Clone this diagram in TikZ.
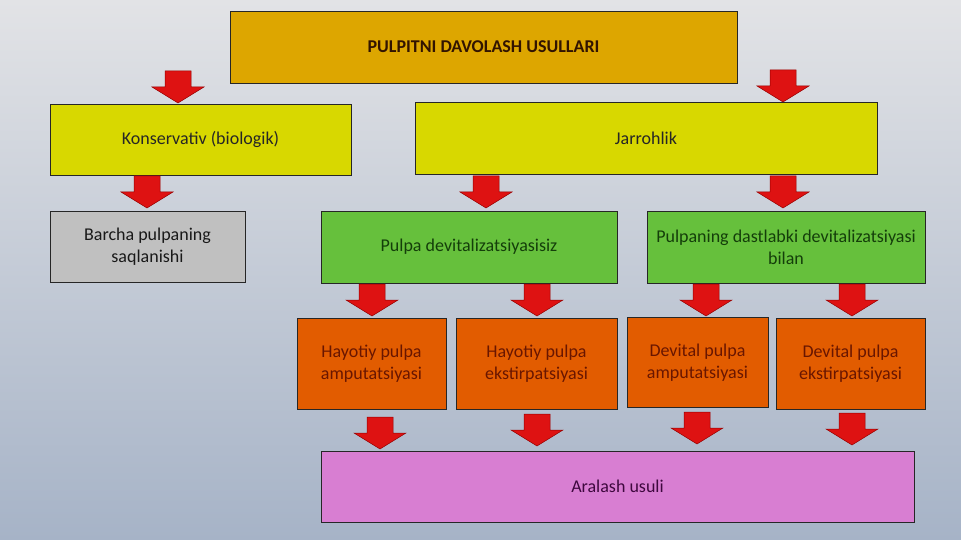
\documentclass[tikz,border=0pt]{standalone}
\usepackage{fontspec}
\setmainfont{Carlito}
\definecolor{bgtop}{RGB}{226,227,230}
\definecolor{bgbot}{RGB}{166,179,199}
\definecolor{cgold}{RGB}{221,166,0}
\definecolor{cyel}{RGB}{216,216,0}
\definecolor{cgreen}{RGB}{102,192,60}
\definecolor{corange}{RGB}{226,92,0}
\definecolor{cpink}{RGB}{216,126,210}
\definecolor{cgray}{RGB}{192,192,192}
\definecolor{arred}{RGB}{222,18,18}
\definecolor{aredge}{RGB}{150,0,0}
\definecolor{tgreen}{RGB}{20,62,10}
\definecolor{tred}{RGB}{105,22,0}
\definecolor{tpurp}{RGB}{62,8,62}
\definecolor{tbrown}{RGB}{50,20,0}
\tikzset{
  box/.style={draw=black!85, line width=0.9pt, align=center, inner sep=2pt,
    font=\fontsize{18}{22}\selectfont},
  barrow/.pic={\fill[arred, draw=aredge, line width=0.5pt]
    (-13,0) -- (13,0) -- (13,16) -- (26,16) -- (0,32) -- (-26,16) -- (-13,16) -- cycle;}
}
\begin{document}
\begin{tikzpicture}[x=1pt,y=-1pt]
\shade[top color=bgtop, bottom color=bgbot] (0,0) rectangle (961,540);
\useasboundingbox (0,0) rectangle (961,540);

\node[box, fill=cgold, text=tbrown, minimum width=507, minimum height=72, font=\fontsize{18}{22}\selectfont\bfseries] (top) at (483.5,47) {PULPITNI DAVOLASH USULLARI};
\node[box, fill=cyel, text=black!85, minimum width=301, minimum height=71] (kons) at (200.5,139.5) {Konservativ (biologik)};
\node[box, fill=cyel, text=black!85, minimum width=462, minimum height=72] (jarr) at (646,138) {Jarrohlik};
\node[box, fill=cgray, text=black!90, minimum width=195, minimum height=71] (barcha) at (147.5,246.5) {Barcha pulpaning\\saqlanishi};
\node[box, fill=cgreen, text=tgreen, minimum width=296, minimum height=72] (siz) at (469,247) {Pulpa devitalizatsiyasisiz};
\node[box, fill=cgreen, text=tgreen, minimum width=278, minimum height=72] (bilan) at (786,247) {Pulpaning dastlabki devitalizatsiyasi\\bilan};
\node[box, fill=corange, text=tred, minimum width=149, minimum height=91] (ha) at (371.5,363.5) {Hayotiy pulpa\\amputatsiyasi};
\node[box, fill=corange, text=tred, minimum width=161, minimum height=91] (he) at (536.5,363.5) {Hayotiy pulpa\\ekstirpatsiyasi};
\node[box, fill=corange, text=tred, minimum width=141, minimum height=90] (da) at (697.5,362.5) {Devital pulpa\\amputatsiyasi};
\node[box, fill=corange, text=tred, minimum width=149, minimum height=91] (de) at (850.5,363.5) {Devital pulpa\\ekstirpatsiyasi};
\node[box, fill=cpink, text=tpurp, minimum width=593, minimum height=71] (aral) at (617.5,486.5) {Aralash usuli};

\pic at (178,71) {barrow};
\pic at (783,70) {barrow};
\pic at (147,176) {barrow};
\pic at (486,176) {barrow};
\pic at (783,176) {barrow};
\pic at (372,284) {barrow};
\pic at (537,284) {barrow};
\pic at (706,284) {barrow};
\pic at (852,284) {barrow};
\pic at (380,417) {barrow};
\pic at (537,414) {barrow};
\pic at (697,412) {barrow};
\pic at (852,413) {barrow};
\end{tikzpicture}
\end{document}
